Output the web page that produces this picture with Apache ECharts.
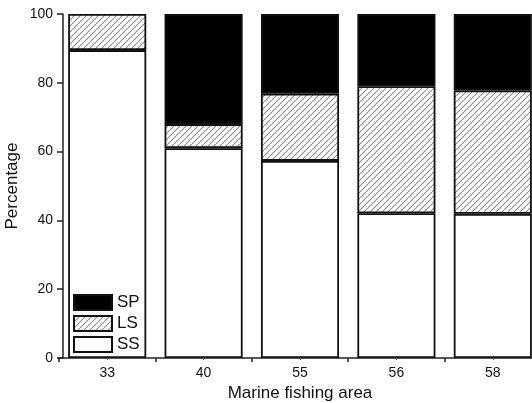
<!DOCTYPE html>
<html>
<head>
<meta charset="utf-8">
<script src="https://cdn.jsdelivr.net/npm/echarts@6/dist/echarts.min.js"></script>
<style>
html, body { margin: 0; padding: 0; background: #fff; }
#chart { width: 532px; height: 403px; }
</style>
</head>
<body>
<div id="chart"></div>
<script>
// Composition by marine fishing area (percent of total)
const areas = ['33', '40', '55', '56', '58'];
const ssValues = [89.5, 61.0, 57.3, 42.1, 41.9];
const lsValues = [10.5, 7.0, 19.5, 36.9, 35.9];
const spValues = [0.0, 32.0, 23.2, 21.0, 22.2];
const yTicks = [0, 20, 40, 60, 80, 100];

// Diagonal hatch fill used for the LS segments
function hatchPattern() {
  const size = 6;
  const c = document.createElement('canvas');
  c.width = size; c.height = size;
  const ctx = c.getContext('2d');
  ctx.fillStyle = '#ffffff';
  ctx.fillRect(0, 0, size, size);
  ctx.strokeStyle = '#8f8f8f';
  ctx.lineWidth = 1.1;
  ctx.beginPath();
  for (let k = -1; k <= 1; k++) {
    ctx.moveTo(k * size, size);
    ctx.lineTo(k * size + size, 0);
  }
  ctx.stroke();
  return { image: c, repeat: 'repeat' };
}

// Empty segments get no outline so they leave no stray edge
const asItems = arr => arr.map(v => v === 0 ? { value: v, itemStyle: { borderWidth: 0 } } : v);

const font = 'Liberation Sans, Arial, sans-serif';
const chart = echarts.init(document.getElementById('chart'));
const border = { borderColor: '#111', borderWidth: 1.8 };

chart.setOption({
  animation: false,
  backgroundColor: '#fff',
  grid: { left: 59, top: 14, width: 482, bottom: 45, containLabel: false, outerBoundsMode: 'none' },
  legend: {
    orient: 'vertical',
    left: 73, top: 294,
    padding: 0,
    itemWidth: 38, itemHeight: 15, itemGap: 4,
    icon: 'rect',
    data: ['SP', 'LS', 'SS'],
    textStyle: { fontFamily: font, fontSize: 17, lineHeight: 15, color: '#111' }
  },
  xAxis: [{
    type: 'category',
    data: areas,
    axisLine: { lineStyle: { color: '#222', width: 1.5 } },
    axisTick: { show: true, length: 4, lineStyle: { color: '#222', width: 1.5 } },
    axisLabel: { fontFamily: font, fontSize: 14, color: '#111', margin: 8 },
    name: 'Marine fishing area',
    nameLocation: 'middle',
    nameGap: 27,
    nameTextStyle: { fontFamily: font, fontSize: 17, color: '#111' }
  }, {
    type: 'category',
    data: areas,
    position: 'bottom',
    axisLine: { show: false },
    axisTick: { show: true, alignWithLabel: true, length: 2, lineStyle: { color: '#555', width: 1 } },
    axisLabel: { show: false }
  }],
  yAxis: {
    type: 'value',
    min: 0, max: 100, interval: 20,
    offset: -4,
    splitLine: { show: false },
    axisLine: { show: true, lineStyle: { color: '#222', width: 1.5 } },
    axisTick: { show: true, length: 6, lineStyle: { color: '#222', width: 1.5 } },
    axisLabel: {
      fontFamily: font, fontSize: 14, color: '#111', margin: 10,
      formatter: v => yTicks.includes(v) ? String(v) : ''
    },
    name: 'Percentage',
    nameLocation: 'middle',
    nameGap: 42,
    nameMoveOverlap: false,
    nameTextStyle: { fontFamily: font, fontSize: 17, color: '#111' }
  },
  series: [
    { name: 'SS', type: 'bar', stack: 'pct', data: asItems(ssValues), barWidth: '81%',
      itemStyle: Object.assign({ color: '#ffffff' }, border) },
    { name: 'LS', type: 'bar', stack: 'pct', data: asItems(lsValues), barWidth: '81%',
      itemStyle: Object.assign({ color: hatchPattern() }, border) },
    { name: 'SP', type: 'bar', stack: 'pct', data: asItems(spValues), barWidth: '81%',
      itemStyle: Object.assign({ color: '#000000' }, border) }
  ]
});
</script>
</body>
</html>
